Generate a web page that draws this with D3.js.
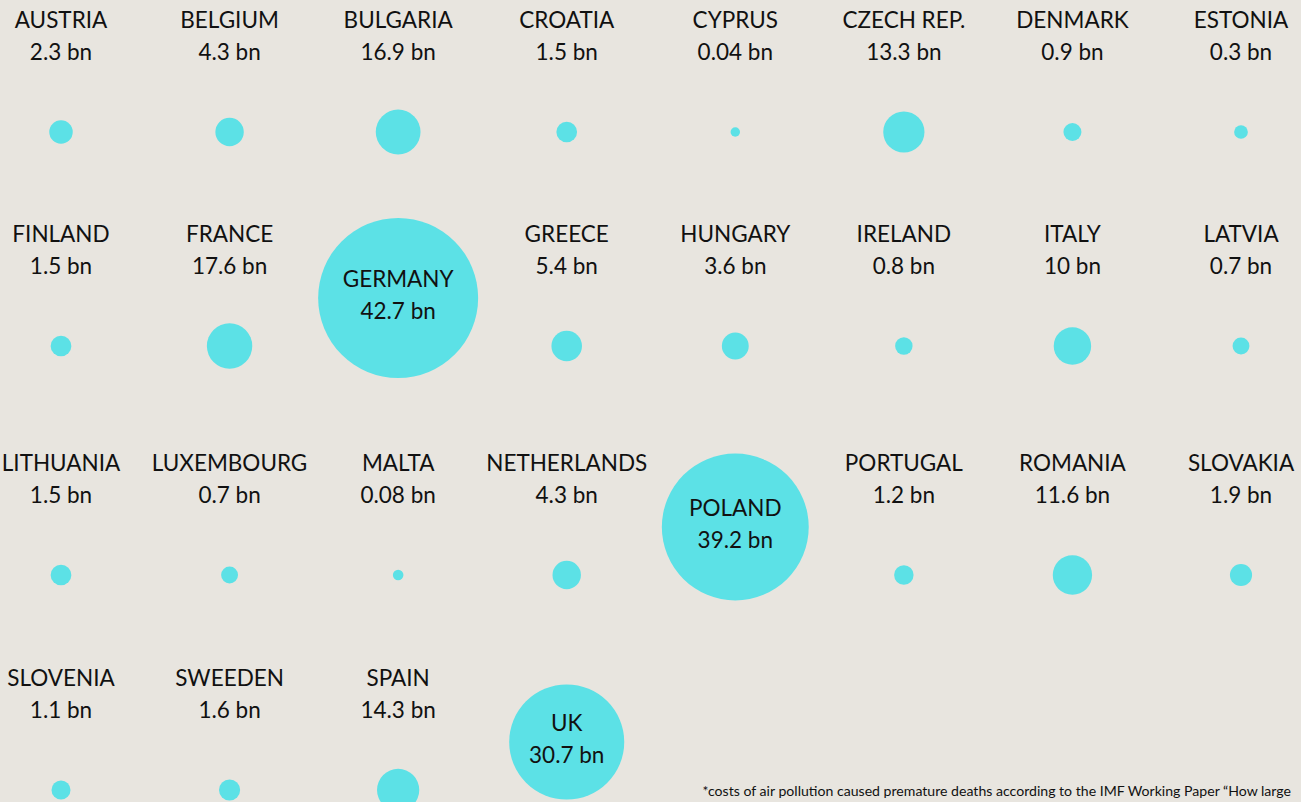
<!DOCTYPE html>
<html>
<head>
<meta charset="utf-8">
<script src="https://cdn.jsdelivr.net/npm/d3@7"></script>
<style>
    html, body { margin: 0; padding: 0; background: #e8e5df; }
    svg { display: block; }
    text { font-family: Lato, "Noto Sans", sans-serif; font-weight: 400; fill: #111; }
</style>
</head>
<body>
<svg id="svg"></svg>
<script>
// countries in the order they appear on the grid (8 per row)
const countries = [
    'AUSTRIA', 'BELGIUM', 'BULGARIA', 'CROATIA', 'CYPRUS', 'CZECH REP.', 'DENMARK', 'ESTONIA',
    'FINLAND', 'FRANCE', 'GERMANY', 'GREECE', 'HUNGARY', 'IRELAND', 'ITALY', 'LATVIA',
    'LITHUANIA', 'LUXEMBOURG', 'MALTA', 'NETHERLANDS', 'POLAND', 'PORTUGAL', 'ROMANIA', 'SLOVAKIA',
    'SLOVENIA', 'SWEEDEN', 'SPAIN', 'UK'
];
// cost in bn
const costs = [
    2.3, 4.3, 16.9, 1.5, 0.04, 13.3, 0.9, 0.3,
    1.5, 17.6, 42.7, 5.4, 3.6, 0.8, 10, 0.7,
    1.5, 0.7, 0.08, 4.3, 39.2, 1.2, 11.6, 1.9,
    1.1, 1.6, 14.3, 30.7
];
const columns = d3.range(8);
const rows = d3.range(4);
const footnote = '*costs of air pollution caused premature deaths according to the IMF Working Paper \u201CHow large';

const width = 1301,
    height = 802;

const svg = d3.select('#svg')
    .attr('width', width)
    .attr('height', height)
    .attr('viewBox', `0 0 ${width} ${height}`);

svg.append('rect')
    .attr('width', width)
    .attr('height', height)
    .attr('fill', '#e8e5df');

const x = d3.scalePoint().domain(columns).range([61, 1241]);
const y = d3.scaleOrdinal().domain(rows).range([132, 346, 575, 790]);

// small bubbles sit under their label, big ones hold the label inside
const bigLimit = 25;
const rSmall = d3.scalePow().exponent(0.4).domain([0, 17.6]).range([3, 22.7]);
const rBig = d3.scaleLinear().domain([0, 42.7]).range([0, 80]);

const data = countries.map((name, i) => ({
    name,
    value: costs[i],
    col: i % columns.length,
    row: Math.floor(i / columns.length)
}));

const nodes = svg.append('g')
    .selectAll('g')
    .data(data)
    .join('g')
    .attr('transform', d => {
        const big = d.value > bigLimit;
        return `translate(${x(d.col)},${y(d.row) - (big ? 48 : 0)})`;
    });

nodes.append('circle')
    .attr('r', d => d.value > bigLimit ? rBig(d.value) : rSmall(d.value))
    .attr('fill', '#5ce1e6');

nodes.append('text')
    .attr('text-anchor', 'middle')
    .attr('font-size', 22.5)
    .attr('y', d => d.value > bigLimit ? -11 : -104)
    .text(d => d.name);

nodes.append('text')
    .attr('text-anchor', 'middle')
    .attr('font-size', 22.5)
    .attr('y', d => d.value > bigLimit ? 21 : -72)
    .text(d => `${d.value} bn`);

svg.append('text')
    .attr('x', 1291)
    .attr('y', 796)
    .attr('text-anchor', 'end')
    .attr('font-size', 14.1)
    .text(footnote);
</script>
</body>
</html>
